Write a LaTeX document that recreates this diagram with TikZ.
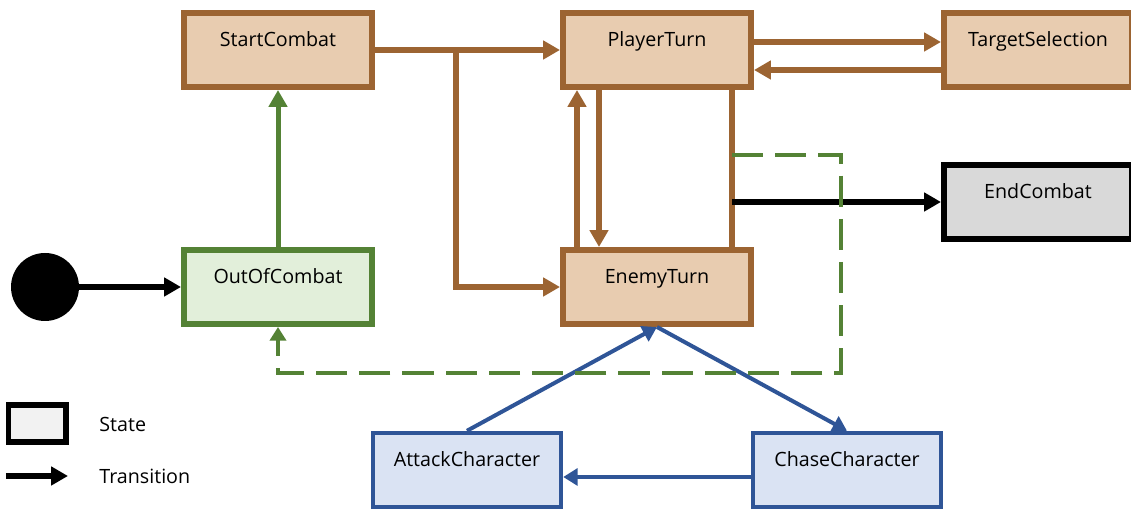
\documentclass[tikz,border=0pt]{standalone}
\usepackage{fontspec}
\setmainfont{Open Sans}
\usetikzlibrary{arrows.meta,positioning,calc}
\definecolor{turnbrown}{HTML}{9C6432}
\definecolor{turnfill}{HTML}{E8CCB0}
\definecolor{idlegreen}{HTML}{548235}
\definecolor{idlefill}{HTML}{E2EFDA}
\definecolor{aiblue}{HTML}{2F5597}
\definecolor{aifill}{HTML}{DAE3F3}
\definecolor{endgray}{HTML}{D9D9D9}
\definecolor{keygray}{HTML}{F2F2F2}

\begin{document}
\begin{tikzpicture}[
    every node/.style={font=\fontsize{14pt}{17pt}\selectfont},
    stbox/.style={draw, line width=0.15cm, minimum width=4.7cm, inner ysep=0pt, text height=0.85cm, text depth=1cm},
    combat/.style={fill=turnfill, draw=turnbrown},
    idle/.style={fill=idlefill, draw=idlegreen},
    chase/.style={fill=aifill, draw=aiblue, line width=0.11cm},
    done/.style={fill=endgray, draw=black},
    arr/.style={-{Triangle[length=0.42cm, width=0.45cm]}},
    brownline/.style={draw=turnbrown, line width=0.15cm},
    greenline/.style={draw=idlegreen, line width=0.125cm},
    blueline/.style={draw=aiblue, line width=0.1cm, -{Triangle[length=0.36cm, width=0.42cm]}},
    blackline/.style={draw=black, line width=0.15cm}
  ]
  \useasboundingbox (0,0) rectangle (28.275,12.8);
  \node[stbox, combat] (StartCombat) at (6.95, 11.55) {StartCombat};
  \node[stbox, combat] (PlayerTurn) at (16.425, 11.55) {PlayerTurn};
  \node[stbox, combat] (TargetSelection) at (25.95, 11.55) {TargetSelection};
  \node[stbox, done] (EndCombat) at (25.95, 7.75) {EndCombat};
  \node[stbox, idle] (OutOfCombat) at (6.95, 5.625) {OutOfCombat};
  \node[stbox, combat] (EnemyTurn) at (16.425, 5.625) {EnemyTurn};
  \node[stbox, chase] (AttackCharacter) at (11.675, 1.05) {AttackCharacter};
  \node[stbox, chase] (ChaseCharacter) at (21.175, 1.05) {ChaseCharacter};
  \node[circle, fill=black, minimum size=1.7cm, inner sep=0pt] (init) at (1.125, 5.625) {};

  \draw[blackline, arr] (init) -- (OutOfCombat);
  \draw[greenline, arr] (OutOfCombat) -- (StartCombat);
  \coordinate (fork) at (11.4, 11.55);
  \draw[brownline, arr] (StartCombat) -- (PlayerTurn);
  \draw[brownline, arr] (fork) |- (EnemyTurn);
  \draw[brownline, arr] ([yshift=0.2cm]PlayerTurn.east) -- ([yshift=0.2cm]TargetSelection.west);
  \draw[brownline, arr] ([yshift=-0.5cm]TargetSelection.west) -- ([yshift=-0.5cm]PlayerTurn.east);
  \draw[brownline, arr] ([xshift=-2cm]EnemyTurn.north) -- ([xshift=-2cm]PlayerTurn.south);
  \draw[brownline, arr] ([xshift=-1.45cm]PlayerTurn.south) -- ([xshift=-1.45cm]EnemyTurn.north);
  \draw[brownline] ([xshift=1.875cm]PlayerTurn.south) -- ([xshift=1.875cm]EnemyTurn.north);

  \coordinate (quit) at (18.3, 7.75);
  \draw[blackline, arr] (quit) -- (EndCombat);

  \draw[blueline] (AttackCharacter.north) -- (EnemyTurn.south);
  \draw[blueline] (EnemyTurn.south) -- (ChaseCharacter.north);
  \draw[blueline] ([yshift=-0.175cm]ChaseCharacter.west) -- ([yshift=-0.175cm]AttackCharacter.east);

  \coordinate (flee) at (18.3, 8.925);
  \coordinate (fleebend) at (21.025, 3.475);
  \draw[idlegreen, line width=0.1cm, dash pattern=on 0.78cm off 0.3cm, -{Triangle[length=0.34cm, width=0.4cm]}]
    (flee) -| (fleebend) -| (OutOfCombat);

  \node[draw, line width=0.15cm, fill=keygray, minimum width=1.425cm, minimum height=0.925cm, inner sep=0pt] (keystate) at (0.925, 2.2) {};
  \node[anchor=west] (keystatetext) at (2.36, 2.2) {State};
  \coordinate (keyfrom) at (0.15, 0.9);
  \coordinate (keyto) at (1.7, 0.9);
  \draw[blackline, arr] (keyfrom) -- (keyto);
  \node[anchor=west] (keytranstext) at (2.36, 0.9) {Transition};
\end{tikzpicture}
\end{document}
